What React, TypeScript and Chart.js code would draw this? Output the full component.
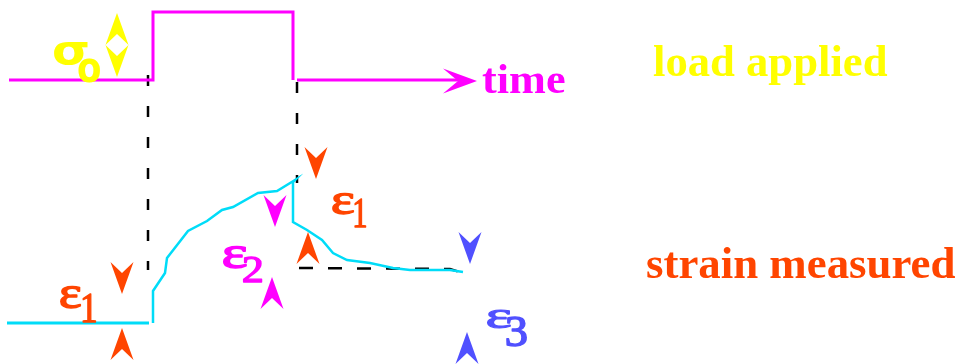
import React, { useEffect, useRef } from "react";
import { Chart, registerables } from "chart.js";

Chart.register(...registerables);

// ---- data (diagram coordinates: x = time, y = level, y grows downward) ----
const loadStepX = [9, 153, 153, 293, 293];
const loadStepY = [80, 80, 12, 12, 80];
const timeAxisX = [297, 462];
const timeAxisY = [80, 80];

const strainBeforeX = [7, 149];
const strainBeforeY = [323, 323];
const strainCurveX = [153, 153, 165, 167, 188, 207, 222, 233, 258, 277, 295, 293, 293, 307, 322, 333, 347, 370, 393, 410, 450, 463];
const strainCurveY = [323, 291, 273, 258, 231, 221, 210, 207, 193, 191, 180, 182, 222, 230, 240, 253, 260, 263, 268, 270, 270, 272];

const guide1X = [148, 148];
const guide1Y = [75, 270];
const guide2X = [297, 297];
const guide2Y = [82, 183];
const guide3X = [299, 450, 463];
const guide3Y = [268, 269, 273];

// arrowhead tips
const arrowTipX = [122, 122, 275, 272, 316, 308, 470, 467, 117, 117, 477];
const arrowTipY = [294, 328, 227, 277, 179, 232, 264, 332, 13, 77, 81];
const arrowDir = ["down", "up", "down", "up", "down", "up", "down", "up", "up", "down", "right"];
const arrowKind = ["eps1", "eps1", "eps2", "eps2", "eps1", "eps1", "eps3", "eps3", "sigma", "sigma", "time"];

// labels: text and box [left, top, right, bottom]
const labelText = ["load applied", "time", "strain measured", "σ", "o", "ε", "1", "ε", "1", "ε", "2", "ε", "3"];
const labelKind = ["sigma", "time", "eps1", "sigma", "sigma", "eps1", "eps1", "eps1", "eps1", "eps2", "eps2", "eps3", "eps3"];
const labelFontKind = ["word", "word", "word", "greekSans", "subSans", "greek", "sub", "greek", "sub", "greek", "sub", "greek", "sub"];
const labelBox = [
  [653, 44, 887, 85],
  [482, 63, 565, 93],
  [647, 247, 955, 278],
  [53, 42, 88, 65],
  [78, 58, 100, 82],
  [60, 285, 82, 310],
  [82, 295, 97, 323],
  [332, 192, 355, 216],
  [354, 200, 367, 228],
  [223, 245, 248, 270],
  [242, 257, 263, 283],
  [487, 309, 512, 329],
  [505, 318, 527, 347],
];

// ---- styles ----
const COLORS: Record<string, string> = {
  sigma: "#ffff00",
  time: "#ff00ff",
  eps1: "#ff4500",
  eps2: "#ff00ff",
  eps3: "#5050ff",
};
const FONTS: Record<string, string> = {
  word: "bold 44px 'Liberation Serif'",
  greek: "54px 'Liberation Serif'",
  sub: "41px 'Liberation Serif'",
  greekSans: "bold 46px 'DejaVu Sans'",
  subSans: "bold 34px 'DejaVu Sans'",
};
const STROKE: Record<string, number> = { word: 0, greek: 1.6, sub: 1.4, greekSans: 0, subSans: 0 };
const MAGENTA = "#ff00ff";
const CYAN = "#00dcf8";

const zip = (xs: number[], ys: number[]) => xs.map((x, i) => ({ x, y: ys[i] }));

const annotations = {
  id: "annotations",
  afterDatasetsDraw(chart: any) {
    const { ctx, scales } = chart;
    const px = (v: number) => scales.x.getPixelForValue(v);
    const py = (v: number) => scales.y.getPixelForValue(v);
    ctx.save();
    arrowTipX.forEach((tx, i) => {
      const x0 = px(tx);
      const y0 = py(arrowTipY[i]);
      const dir = arrowDir[i];
      const big = arrowKind[i] === "time";
      const L = big ? 34 : 32;
      const W = big ? 12.5 : 11.5;
      const N = big ? 19 : 21;
      let dx = 0, dy = 0;
      if (dir === "down") dy = 1;
      else if (dir === "up") dy = -1;
      else dx = 1;
      const nx = -dy, ny = dx;
      ctx.beginPath();
      ctx.moveTo(x0, y0);
      ctx.lineTo(x0 - dx * L + nx * W, y0 - dy * L + ny * W);
      ctx.lineTo(x0 - dx * N, y0 - dy * N);
      ctx.lineTo(x0 - dx * L - nx * W, y0 - dy * L - ny * W);
      ctx.closePath();
      ctx.fillStyle = COLORS[arrowKind[i]];
      ctx.fill();
    });
    labelText.forEach((t, i) => {
      const [l, tp, r, b] = labelBox[i];
      const L = px(l), T = py(tp), R = px(r), B = py(b);
      const fk = labelFontKind[i];
      ctx.font = FONTS[fk];
      ctx.textBaseline = "alphabetic";
      ctx.textAlign = "left";
      const m = ctx.measureText(t);
      const sw = STROKE[fk];
      const w = m.actualBoundingBoxLeft + m.actualBoundingBoxRight + sw;
      const h = m.actualBoundingBoxAscent + m.actualBoundingBoxDescent + sw;
      ctx.save();
      ctx.translate(L, T);
      ctx.scale((R - L) / w, (B - T) / h);
      ctx.fillStyle = COLORS[labelKind[i]];
      ctx.fillText(t, m.actualBoundingBoxLeft + sw / 2, m.actualBoundingBoxAscent + sw / 2);
      if (sw > 0) {
        ctx.strokeStyle = COLORS[labelKind[i]];
        ctx.lineWidth = sw;
        ctx.lineJoin = "round";
        ctx.strokeText(t, m.actualBoundingBoxLeft + sw / 2, m.actualBoundingBoxAscent + sw / 2);
      }
      ctx.restore();
    });
    ctx.restore();
  },
};

export default function App() {
  const ref = useRef<HTMLCanvasElement | null>(null);
  useEffect(() => {
    document.body.style.margin = "0";
    if (!ref.current) return;
    const line = (data: any, color: string, width: number, dash: number[] = []) => ({
      data,
      showLine: true,
      borderColor: color,
      borderWidth: width,
      borderDash: dash,
      pointRadius: 0,
      fill: false,
      tension: 0,
      borderCapStyle: "butt",
      borderJoinStyle: "miter",
    });
    const chart = new Chart(ref.current, {
      type: "scatter",
      data: {
        datasets: [
          line(zip(loadStepX, loadStepY), MAGENTA, 3),
          line(zip(timeAxisX, timeAxisY), MAGENTA, 3),
          line(zip(strainBeforeX, strainBeforeY), CYAN, 3),
          line(zip(strainCurveX, strainCurveY), CYAN, 2.5),
          line(zip(guide1X, guide1Y), "#000000", 2.5, [11, 20]),
          line(zip(guide2X, guide2Y), "#000000", 2.5, [11, 20]),
          line(zip(guide3X, guide3Y), "#000000", 2.5, [14, 15]),
        ] as any,
      },
      options: {
        animation: false,
        responsive: false,
        layout: { padding: 0 },
        scales: {
          x: { type: "linear", min: 0, max: 962, display: false },
          y: { type: "linear", min: 0, max: 364, reverse: true, display: false },
        },
        plugins: { legend: { display: false }, tooltip: { enabled: false } },
      } as any,
      plugins: [annotations],
    });
    return () => chart.destroy();
  }, []);
  return (
    <div style={{ width: 962, height: 364, background: "#fff" }}>
      <canvas ref={ref} width={962} height={364} style={{ display: "block" }} />
    </div>
  );
}
